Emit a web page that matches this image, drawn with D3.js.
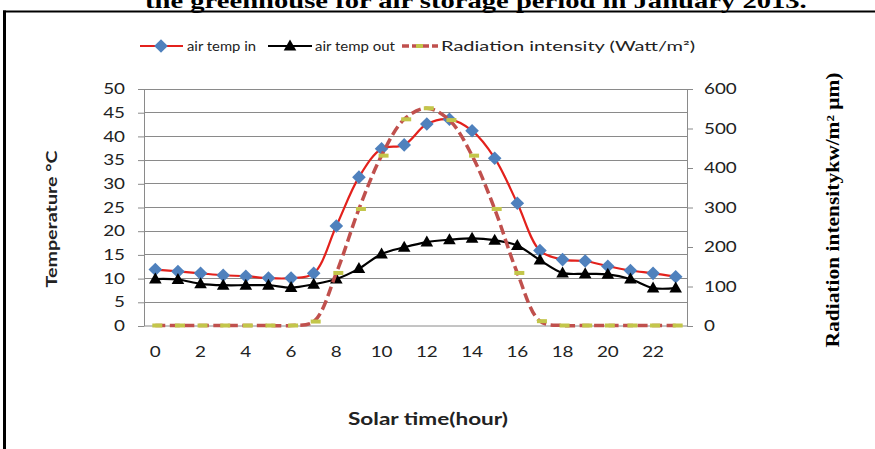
<!DOCTYPE html>
<html><head><meta charset="utf-8">
<script src="https://cdn.jsdelivr.net/npm/d3@7"></script>
<style>body{margin:0;background:#fff}svg{display:block}</style>
</head><body>
<svg id="c" width="875" height="449"></svg>
<script>
// ---- data ----
const hours = [0,1,2,3,4,5,6,7,8,9,10,11,12,13,14,15,16,17,18,19,20,21,22,23];
const hourTickLabels = [0,2,4,6,8,10,12,14,16,18,20,22];
const airTempIn  = [11.8,11.4,11.0,10.6,10.4,10.0,10.0,11.0,21.0,31.3,37.3,38.1,42.5,43.5,41.1,35.3,25.8,15.8,13.9,13.6,12.5,11.6,11.0,10.3];
const airTempOut = [9.8,9.7,8.8,8.5,8.5,8.5,8.0,8.7,9.8,12.0,15.1,16.5,17.6,18.1,18.4,18.0,16.9,13.8,11.1,10.9,10.8,9.8,7.9,7.9];
const radiation  = [0,0,0,0,0,0,0,10,133,295,430,522,550,520,430,295,133,11,0,0,0,0,0,0];
const tempTicks = [0,5,10,15,20,25,30,35,40,45,50];
const radTicks  = [0,100,200,300,400,500,600];
const seriesNames = ["air temp in","air temp out","Radiation intensity (Watt/m\u00B2)"];

// ---- layout ----
const svg = d3.select("#c");
const pL = 144, pR = 687, pT = 88.5, pB = 325.5;
const SANS = "Lato, 'Liberation Sans', sans-serif";
const SERIF = "'Liberation Serif', 'Times New Roman', serif";
const K = 1.3; // horizontal stretch of the reference text
const grid = "#8a8a8a";
const cRed = "#e3211c", cBlue = "#4f81bd", cRad = "#c0504d", cDash = "#c3c64a";

function stretch(sel, k){
  sel.each(function(){
    const L = this.getComputedTextLength();
    d3.select(this).attr("textLength", L*k).attr("lengthAdjust","spacingAndGlyphs");
  });
}
function fit(sel, w){ sel.attr("textLength", w).attr("lengthAdjust","spacingAndGlyphs"); }

const x = d3.scaleBand().domain(hours).range([pL, pR]);
const bw = x.bandwidth();
const cx = h => x(h) + bw/2;
const yL = d3.scaleLinear().domain([0,50]).range([pB, pT]);
const yR = d3.scaleLinear().domain([0,600]).range([pB, pT]);

// frame
svg.append("line").attr("x1",3).attr("x2",875).attr("y1",11.5).attr("y2",11.5).attr("stroke","#000").attr("stroke-width",2);
svg.append("line").attr("x1",4.5).attr("x2",4.5).attr("y1",10.5).attr("y2",449).attr("stroke","#000").attr("stroke-width",3);

// title (cut at top)
const title = svg.append("text").attr("x",145).attr("y",8)
  .attr("font-family",SERIF).attr("font-weight","bold").attr("font-size",22).attr("fill","#000")
  .text("the greenhouse for air storage period in January 2013.");
stretch(title, K);

// gridlines
svg.append("g").selectAll("line").data(tempTicks.filter(d=>d>0)).join("line")
  .attr("x1",pL).attr("x2",pR).attr("y1",d=>Math.round(yL(d))+0.5).attr("y2",d=>Math.round(yL(d))+0.5)
  .attr("stroke",grid).attr("stroke-width",1);

// axes
const axL = svg.append("g").attr("transform",`translate(${pL},0.5)`)
  .call(d3.axisLeft(yL).tickValues(tempTicks).tickSize(6).tickSizeOuter(0).tickPadding(13));
const axR = svg.append("g").attr("transform",`translate(${pR},0.5)`)
  .call(d3.axisRight(yR).tickValues(radTicks).tickSize(6).tickSizeOuter(0).tickPadding(11));
const axB = svg.append("g").attr("transform",`translate(0,${pB})`)
  .call(d3.axisBottom(x).tickValues(hourTickLabels).tickSize(0).tickSizeOuter(0).tickPadding(21.5));
[axL,axR,axB].forEach(a=>{
  a.selectAll("path,line").attr("stroke",grid);
  a.selectAll("text").attr("font-family",SANS).attr("font-size",14.5).attr("fill","#222");
  stretch(a.selectAll("text"), K);
});

// lines
const mk = (ys, sc) => d3.line().x((d,i)=>cx(hours[i])).y(d=>sc(d)).curve(d3.curveCatmullRom.alpha(0.5))(ys);
const diamond = "M0,-6.8L6.8,0L0,6.8L-6.8,0Z";
const triangle = "M0,-6.5L6.3,4.5L-6.3,4.5Z";

// series 1
svg.append("path").attr("d",mk(airTempIn,yL)).attr("fill","none").attr("stroke",cRed).attr("stroke-width",2.2);
svg.append("g").selectAll("path").data(airTempIn).join("path")
  .attr("transform",(d,i)=>`translate(${cx(hours[i])},${yL(d)})`).attr("d",diamond).attr("fill",cBlue);
// series 2
svg.append("path").attr("d",mk(airTempOut,yL)).attr("fill","none").attr("stroke","#000").attr("stroke-width",2.2);
svg.append("g").selectAll("path").data(airTempOut).join("path")
  .attr("transform",(d,i)=>`translate(${cx(hours[i])},${yL(d)})`).attr("d",triangle).attr("fill","#000");
// series 3
svg.append("path").attr("d",mk(radiation,yR)).attr("fill","none").attr("stroke",cRad).attr("stroke-width",3.5)
  .attr("stroke-dasharray","10,4.5");
svg.append("g").selectAll("rect").data(radiation).join("rect")
  .attr("x",(d,i)=>cx(hours[i])-3).attr("y",d=>yR(d)-2).attr("width",10).attr("height",4).attr("fill",cDash);

// legend
const ly = 46;
const lg = svg.append("g");
lg.append("line").attr("x1",140).attr("x2",183).attr("y1",ly).attr("y2",ly).attr("stroke",cRed).attr("stroke-width",2.2);
lg.append("path").attr("transform",`translate(161,${ly})`).attr("d",diamond).attr("fill",cBlue);
lg.append("line").attr("x1",268).attr("x2",312).attr("y1",ly).attr("y2",ly).attr("stroke","#000").attr("stroke-width",2.2);
lg.append("path").attr("transform",`translate(290,${ly})`).attr("d",triangle).attr("fill","#000");
lg.append("line").attr("x1",402).attr("x2",438).attr("y1",ly).attr("y2",ly).attr("stroke",cRad).attr("stroke-width",3.5).attr("stroke-dasharray","7,3");
lg.append("rect").attr("x",416).attr("y",ly-2).attr("width",7).attr("height",4).attr("fill",cDash);
const legX = [187,315,441], legW = [69,80,254];
seriesNames.forEach((n,i)=>{
  const t = lg.append("text").attr("x",legX[i]).attr("y",ly+4.5).attr("font-family",SANS).attr("font-size",13)
    .attr("fill","#222").text(n);
  fit(t, legW[i]);
});

// axis titles
const tx = svg.append("text").attr("x",428).attr("y",425).attr("text-anchor","middle")
  .attr("font-family",SANS).attr("font-weight","bold").attr("font-size",16.5).attr("fill","#222").text("Solar time(hour)");
fit(tx,160);
const tl = svg.append("text").attr("transform","translate(57,219) rotate(-90)").attr("text-anchor","middle")
  .attr("font-family",SANS).attr("font-weight","bold").attr("font-size",16).attr("fill","#222").text("Temperature \u00B0C");
fit(tl,137);
const tr = svg.append("text").attr("transform","translate(839,210) rotate(-90)").attr("text-anchor","middle")
  .attr("font-family",SERIF).attr("font-weight","bold").attr("font-size",18).attr("fill","#000")
  .text("Radiation intensitykw/m\u00B2 \u03BCm)");
fit(tr,275);
</script>
</body></html>
